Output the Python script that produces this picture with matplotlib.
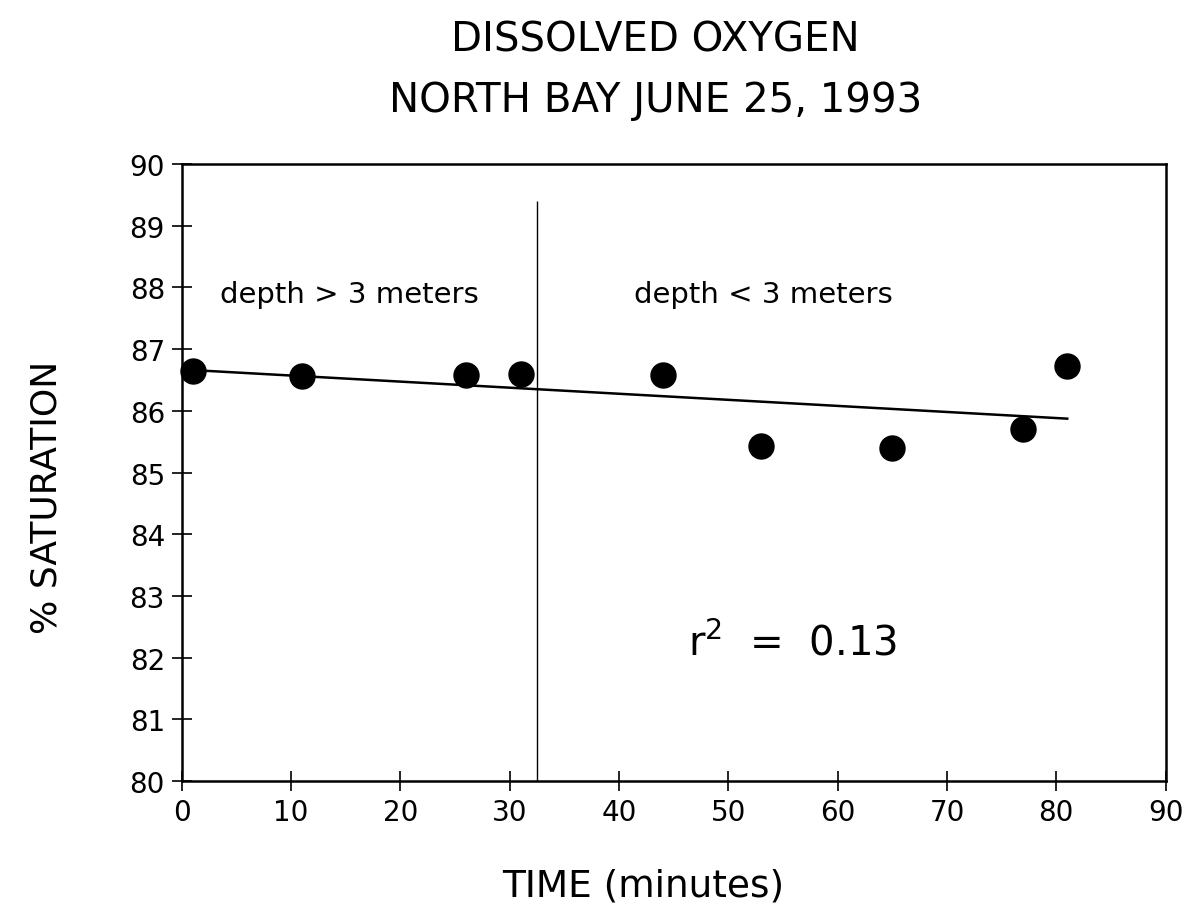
import matplotlib
matplotlib.use("Agg")
import matplotlib.pyplot as plt
import numpy as np
from matplotlib import font_manager

# 数据
time_min = [1, 11, 26, 31, 44, 53, 65, 77, 81]
saturation = [86.64, 86.56, 86.58, 86.59, 86.58, 85.43, 85.40, 85.71, 86.72]
x_ticks = [0, 10, 20, 30, 40, 50, 60, 70, 80, 90]
y_ticks = [80, 81, 82, 83, 84, 85, 86, 87, 88, 89, 90]
split_time = 32.5   # 深度分界
split_top = 89.4
r_squared = "0.13"

names = {f.name for f in font_manager.fontManager.ttflist}
narrow = 'Liberation Sans Narrow' if 'Liberation Sans Narrow' in names else 'DejaVu Sans'
title_size = 34 if narrow != 'DejaVu Sans' else 29

plt.rcParams['font.family'] = ['DejaVu Sans']

fig = plt.figure(figsize=(11.87, 9.12), dpi=100)
ax = fig.add_axes([0.153, 0.1425, 0.829, 0.6765])

# 散点
ax.plot(time_min, saturation, 'o', color='black', markersize=18, clip_on=False, zorder=3)

# 回归线
slope, intercept = np.polyfit(time_min, saturation, 1)
xs = np.array([0, max(time_min)])
ax.plot(xs, slope * xs + intercept, color='black', linewidth=1.8)

# 分界线
ax.vlines(split_time, 80, split_top, color='black', linewidth=1.0)

ax.text(3.5, 87.77, 'depth > 3 meters', fontsize=21, ha='left', va='baseline')
ax.text(41.4, 87.77, 'depth < 3 meters', fontsize=21, ha='left', va='baseline')
ax.text(46.3, 82.05, r'r$^{2}$  =  ' + r_squared, fontsize=29, ha='left', va='baseline')

ax.set_xlim(0, 90)
ax.set_ylim(80, 90)
ax.set_xticks(x_ticks)
ax.set_yticks(y_ticks)
ax.tick_params(axis='both', direction='inout', length=14, width=1.2, labelsize=20, pad=5)
for s in ax.spines.values():
    s.set_linewidth(1.8)

ax.set_xlabel('TIME (minutes)', fontsize=27)
ax.xaxis.set_label_coords(0.469, -0.14)
ax.set_ylabel('% SATURATION', fontsize=26)
ax.yaxis.set_label_coords(-0.12, 0.462)

fig.text(0.552, 0.977, 'DISSOLVED OXYGEN\nNORTH BAY JUNE 25, 1993', family=[narrow, 'DejaVu Sans'],
         fontsize=title_size, ha='center', va='top', linespacing=1.65)

fig.savefig('out.png', dpi=100)
